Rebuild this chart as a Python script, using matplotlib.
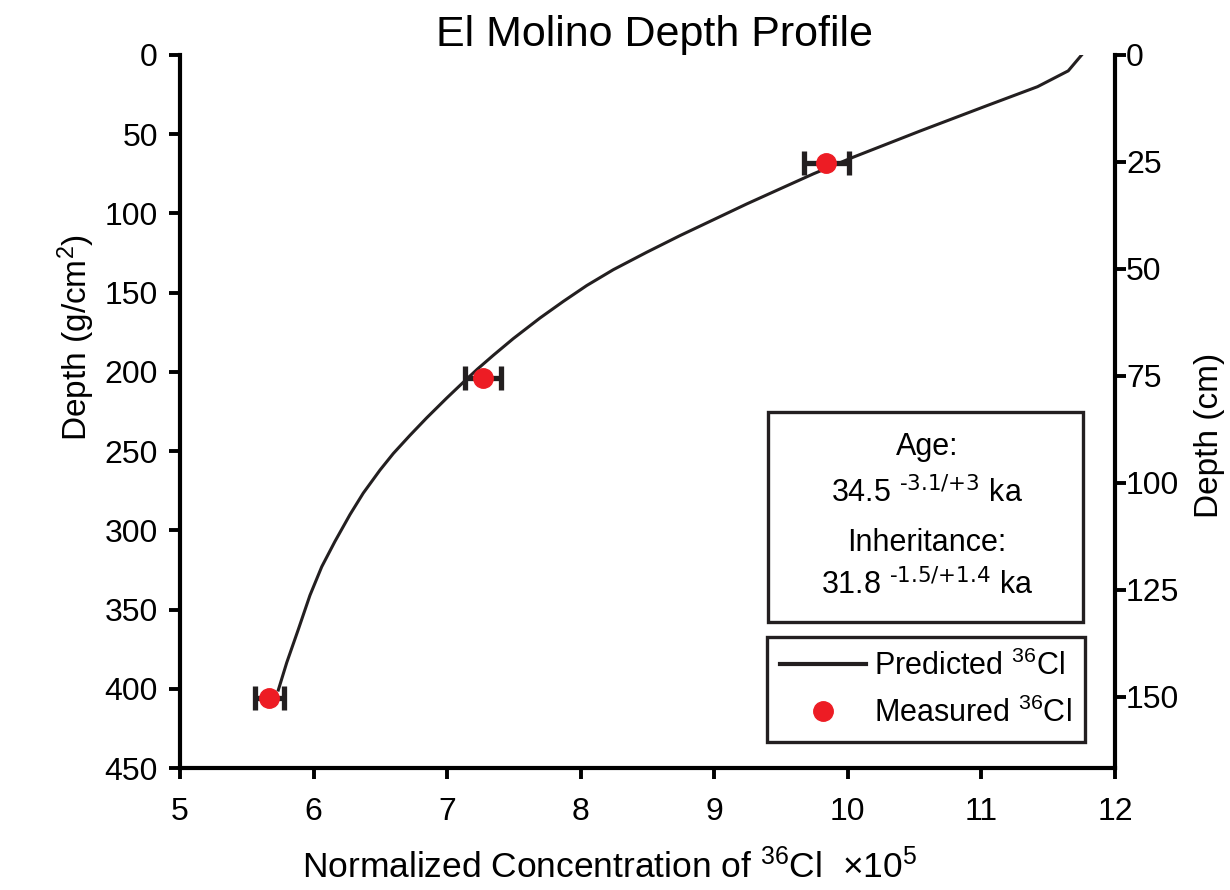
import matplotlib.pyplot as plt
from matplotlib.patches import Rectangle

plt.rcParams['font.family'] = ['Liberation Sans', 'DejaVu Sans']
plt.rcParams['mathtext.default'] = 'regular'

# curva prevista de 36Cl (concentracao x1e5, profundidade g/cm2)
curva_conc = [11.75, 11.65, 11.42, 11.04, 10.54, 10.04, 9.742, 9.492, 9.243, 8.993,
              8.743, 8.494, 8.244, 8.045, 7.870, 7.695, 7.495, 7.346, 7.230, 7.134,
              6.997, 6.847, 6.722, 6.597, 6.497, 6.372, 6.273, 6.160, 6.061, 5.973,
              5.886, 5.799, 5.736]
curva_prof = [0, 10, 20, 32, 48, 64.5, 75, 84.5, 94, 104,
              114, 124.5, 135.5, 145.5, 155.5, 166, 179, 189.5, 198, 205.5,
              216.5, 229, 240, 251.5, 262, 276.5, 290, 307, 323, 341,
              362.5, 383.5, 400.8]

# 36Cl medido
medido_conc = [9.84, 7.27, 5.67]
medido_prof = [68, 204, 406]
medido_erro = [0.165, 0.135, 0.105]

densidade = 2.7  # g/cm3, para o eixo da direita

preto = '#231F20'
vermelho = '#ED1C24'

fig = plt.figure(figsize=(12.3, 8.9), dpi=100)
ax = fig.add_axes([180/1230, 1 - 768/890, 935/1230, 713/890])

ax.plot(curva_conc, curva_prof, color=preto, lw=2.2, label='Predicted $^{36}$Cl', zorder=2)
ax.errorbar(medido_conc, medido_prof, xerr=medido_erro, fmt='none', ecolor=preto,
            elinewidth=3.8, capsize=8.5, capthick=3.8, zorder=3)
ax.plot(medido_conc, medido_prof, 'o', color=vermelho, ms=14, ls='none',
        label='Measured $^{36}$Cl', zorder=4)

ax.set_xlim(5, 12)
ax.set_ylim(450, 0)
ax.set_xticks(range(5, 13))
ax.set_yticks(range(0, 451, 50))
ax.tick_params(axis='both', labelsize=23, width=2.8, length=8, direction='out', color='black')
ax.tick_params(axis='y', pad=8)
ax.tick_params(axis='x', pad=13)
for s in ['top', 'right']:
    ax.spines[s].set_visible(False)
for s in ['left', 'bottom']:
    ax.spines[s].set_linewidth(3)
    ax.spines[s].set_color('black')

ax.set_title('El Molino Depth Profile', fontsize=31, pad=5, x=0.508)
ax.set_ylabel('Depth (g/cm$^2$)', fontsize=24)
ax.yaxis.set_label_coords(-0.089, 0.604)
ax.set_xlabel('Normalized Concentration of $^{36}$Cl  $\\times$10$^5$', fontsize=25.5)
ax.xaxis.set_label_coords(0.459, -0.112)

# eixo da direita em cm
ax2 = ax.twinx()
ax2.set_ylim(450 / densidade, 0)
ax2.set_yticks(range(0, 151, 25))
for s in ['top', 'left', 'bottom']:
    ax2.spines[s].set_visible(False)
ax2.spines['right'].set_linewidth(3)
ax2.spines['right'].set_color('black')
ax2.tick_params(axis='y', labelsize=23, width=2.8, length=8, pad=0, color='black')
ax2.set_ylabel('Depth (cm)', fontsize=24)
ax2.yaxis.set_label_coords(1.085, 0.467)

# caixa com idade e heranca
ax.add_patch(Rectangle((0.629, 0.205), 0.337, 0.294, transform=ax.transAxes,
                       fill=False, lw=2.4, edgecolor=preto, zorder=5))
cx = 0.799
ax.text(cx, 0.450, 'Age:', transform=ax.transAxes, ha='center', va='center', fontsize=22)
ax.text(cx, 0.385, '34.5 $^{\\text{-3.1/+3}}$ ka', transform=ax.transAxes,
        ha='center', va='center', fontsize=22)
ax.text(cx, 0.316, 'Inheritance:', transform=ax.transAxes, ha='center', va='center', fontsize=22)
ax.text(cx, 0.257, '31.8 $^{\\text{-1.5/+1.4}}$ ka', transform=ax.transAxes,
        ha='center', va='center', fontsize=22)

leg = ax.legend(loc='lower right', bbox_to_anchor=(0.968, 0.036), borderaxespad=0,
                fontsize=22, fancybox=False, edgecolor=preto, framealpha=1,
                handlelength=2.8, handletextpad=0.25, borderpad=0.45, labelspacing=0.5)
leg.get_frame().set_linewidth(2.4)
leg.get_lines()[0].set_linewidth(3)
leg.set_zorder(6)

fig.savefig('out.png', dpi=100)
